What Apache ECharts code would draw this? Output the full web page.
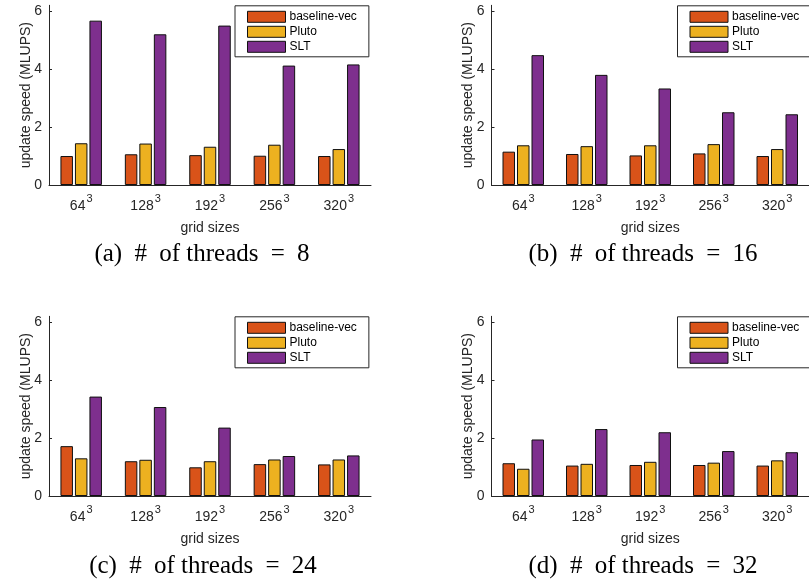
<!DOCTYPE html>
<html>
<head>
<meta charset="utf-8">
<script src="https://cdn.jsdelivr.net/npm/echarts@6/dist/echarts.min.js"></script>
<style>
html,body{margin:0;padding:0;background:#fff;}
#chart{width:809px;height:588px;}
</style>
</head>
<body>
<div id="chart"></div>
<script>
// ---- data ----
const categories = ['64', '128', '192', '256', '320'];
const seriesNames = ['baseline-vec', 'Pluto', 'SLT'];
const yTicks = [0, 2, 4, 6];
const captionLabels = ['(a)', '(b)', '(c)', '(d)'];
const threadCounts = ['8', '16', '24', '32'];

const baselineT8  = [1.00, 1.06, 1.03, 1.01, 1.00];
const plutoT8     = [1.44, 1.43, 1.32, 1.39, 1.24];
const sltT8       = [5.67, 5.20, 5.50, 4.12, 4.16];

const baselineT16 = [1.15, 1.07, 1.02, 1.09, 1.00];
const plutoT16    = [1.37, 1.34, 1.37, 1.41, 1.24];
const sltT16      = [4.48, 3.80, 3.33, 2.51, 2.44];

const baselineT24 = [1.72, 1.20, 0.99, 1.10, 1.09];
const plutoT24    = [1.30, 1.25, 1.20, 1.26, 1.26];
const sltT24      = [3.43, 3.07, 2.36, 1.38, 1.40];

const baselineT32 = [1.13, 1.05, 1.07, 1.07, 1.05];
const plutoT32    = [0.94, 1.11, 1.18, 1.15, 1.23];
const sltT32      = [1.95, 2.31, 2.20, 1.55, 1.51];

const panels = [
  [baselineT8, plutoT8, sltT8],
  [baselineT16, plutoT16, sltT16],
  [baselineT24, plutoT24, sltT24],
  [baselineT32, plutoT32, sltT32]
];

// ---- layout ----
const colors = ['#D95319', '#EDB120', '#7E2F8E'];
const gridPos = [
  {left: 49, top: 5.3},
  {left: 491.5, top: 5.3},
  {left: 49, top: 316.3},
  {left: 491.5, top: 316.3}
];
const gridW = 322, gridH = 179.7;
const captionPos = [[202, 254], [643, 254], [203, 566], [643, 566]];
const axisColor = '#262626';
const sans = 'Liberation Sans';
const serif = 'Liberation Serif';

const grids = [], xAxes = [], yAxes = [], series = [], legends = [], graphics = [];
gridPos.forEach((g, i) => {
  grids.push({left: g.left, top: g.top, width: gridW, height: gridH});
  xAxes.push({
    type: 'category', gridIndex: i, data: categories,
    name: 'grid sizes', nameLocation: 'middle', nameGap: 36,
    nameTextStyle: {fontFamily: sans, fontSize: 14, color: axisColor},
    axisLine: {lineStyle: {color: axisColor, width: 1}},
    axisTick: {show: false},
    axisLabel: {
      interval: 0,
      margin: 8,
      formatter: v => '{n|' + v + '}{s|3}',
      rich: {
        n: {fontFamily: sans, fontSize: 14, color: axisColor, lineHeight: 20, verticalAlign: 'bottom'},
        s: {fontFamily: sans, fontSize: 11, color: axisColor, lineHeight: 18, verticalAlign: 'top', padding: [0, 0, 0, 1]}
      }
    }
  });
  yAxes.push({
    type: 'value', gridIndex: i, min: 0, max: 6.2,
    name: 'update speed (MLUPS)', nameLocation: 'middle', nameGap: 16,
    nameMoveOverlap: false,
    nameTextStyle: {fontFamily: sans, fontSize: 14, color: axisColor},
    axisLine: {show: true, lineStyle: {color: axisColor, width: 1}},
    axisTick: {show: true, inside: true, length: 3, customValues: yTicks, lineStyle: {color: axisColor}},
    axisLabel: {customValues: yTicks, fontFamily: sans, fontSize: 14, color: axisColor, margin: 7},
    splitLine: {show: false}
  });
  panels[i].forEach((vals, k) => {
    series.push({
      type: 'bar', name: seriesNames[k], xAxisIndex: i, yAxisIndex: i,
      data: vals, barWidth: 12.5, barGap: '16%',
      itemStyle: {color: colors[k], borderColor: '#111', borderWidth: 1},
      emphasis: {disabled: true},
      animation: false
    });
  });
  legends.push({
    data: seriesNames, orient: 'vertical', align: 'left',
    left: g.left + 186, top: g.top + 0.5,
    padding: [5, 12, 4, 12], itemGap: 3, itemWidth: 38, itemHeight: 11,
    backgroundColor: '#fff', borderColor: axisColor, borderWidth: 1,
    icon: 'rect',
    itemStyle: {borderColor: '#111', borderWidth: 1},
    textStyle: {fontFamily: sans, fontSize: 12, color: '#000', padding: [0, 0, 0, -1]},
    selectedMode: false
  });
  graphics.push({
    type: 'text', x: captionPos[i][0], y: captionPos[i][1],
    style: {
      text: '{p|' + captionLabels[i] + ' }{h|#}{p| of threads }{h|=}{p| ' + threadCounts[i] + '}',
      align: 'center', verticalAlign: 'middle',
      rich: {
        p: {fontFamily: serif, fontSize: 25, fill: '#000'},
        h: {fontFamily: serif, fontSize: 25, fill: '#000', padding: [0, 6, 0, 6]}
      }
    }
  });
});

const chart = echarts.init(document.getElementById('chart'), null, {renderer: 'canvas'});
chart.setOption({
  animation: false,
  color: colors,
  grid: grids, xAxis: xAxes, yAxis: yAxes, series: series,
  legend: legends, graphic: graphics
});
</script>
</body>
</html>
